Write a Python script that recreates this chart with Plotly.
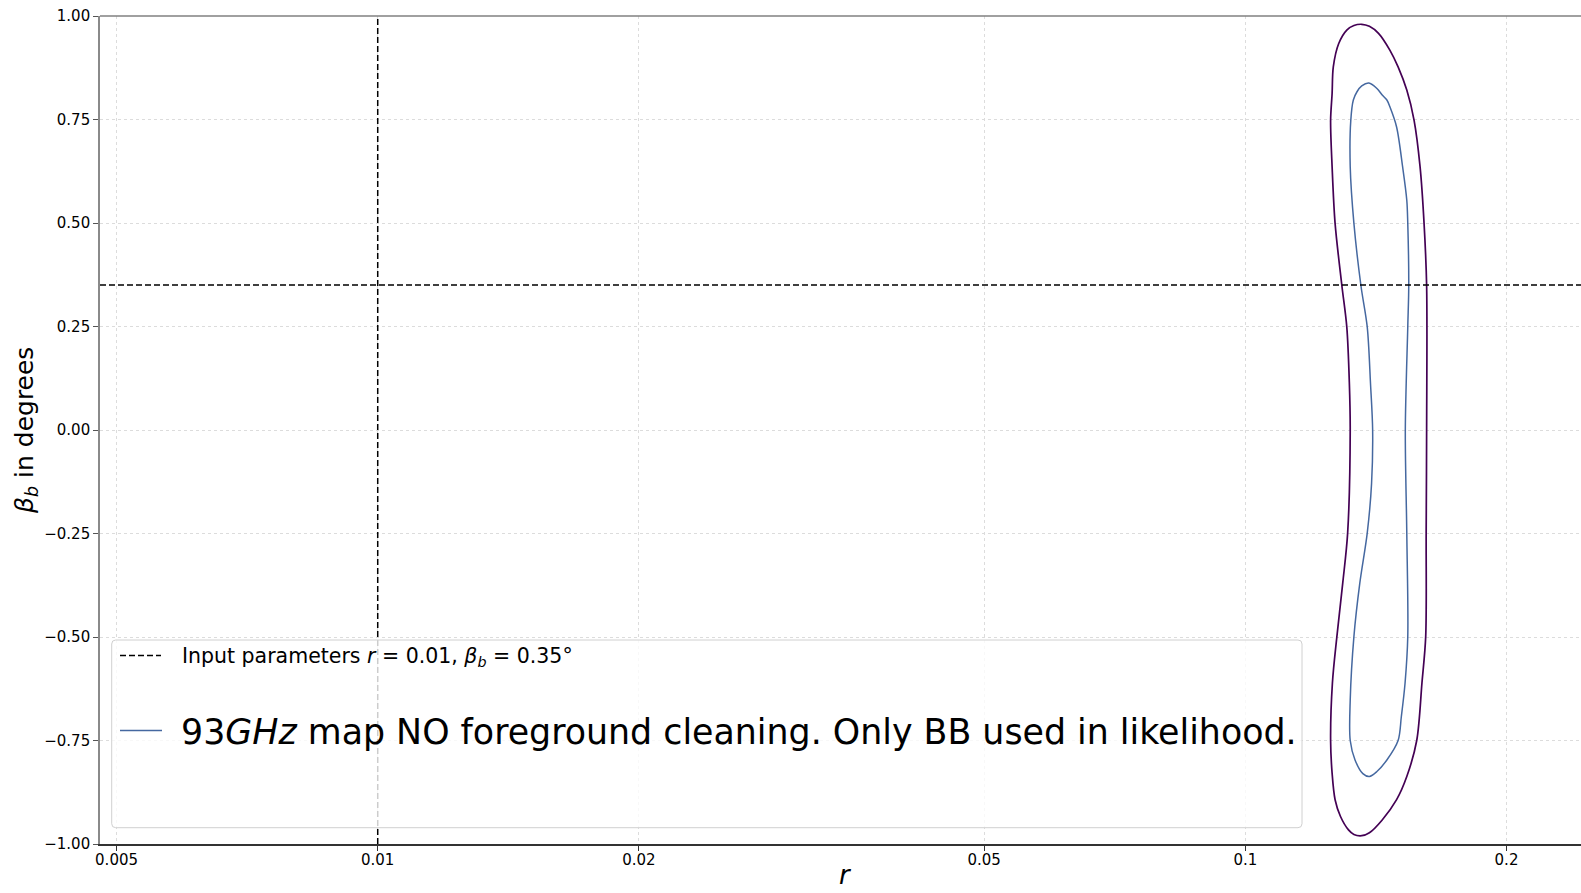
import numpy as np
import plotly.graph_objects as go

# ---- data -------------------------------------------------------------
# Input (fiducial) parameters
r_input = 0.01
beta_input = 0.35

# Outer confidence contour (r, beta_b in degrees), closed loop
outer_r = [0.1362, 0.1390, 0.1424, 0.1468, 0.1500, 0.1535, 0.1565, 0.1590, 0.1607,
           0.1618, 0.1618, 0.1616, 0.1614, 0.1598, 0.1576, 0.1535, 0.1494, 0.1438,
           0.1390, 0.1362, 0.1334, 0.1315, 0.1287, 0.1269, 0.1259, 0.1254, 0.1260,
           0.1275, 0.1295, 0.1312, 0.1321, 0.1318, 0.1309, 0.1292, 0.1269, 0.1259,
           0.1254, 0.1259, 0.1263, 0.1281, 0.1309, 0.1334, 0.1362]
outer_beta = [0.980, 0.975, 0.958, 0.917, 0.877, 0.821, 0.748, 0.636, 0.499,
              0.349, 0.000, -0.249, -0.499, -0.611, -0.750, -0.837, -0.893, -0.942,
              -0.973, -0.980, -0.977, -0.966, -0.933, -0.893, -0.829, -0.750, -0.611,
              -0.499, -0.370, -0.249, 0.000, 0.113, 0.249, 0.349, 0.499, 0.636,
              0.748, 0.813, 0.877, 0.933, 0.966, 0.977, 0.980]

# Inner confidence contour
inner_r = [0.1388, 0.1418, 0.1438, 0.1456, 0.1468, 0.1494, 0.1518, 0.1535, 0.1539,
           0.1543, 0.1539, 0.1529, 0.1535, 0.1539, 0.1528, 0.1513, 0.1500, 0.1456,
           0.1418, 0.1390, 0.1366, 0.1338, 0.1321, 0.1321, 0.1334, 0.1355, 0.1382,
           0.1398, 0.1402, 0.1394, 0.1382, 0.1359, 0.1334, 0.1321, 0.1323, 0.1332,
           0.1345, 0.1362, 0.1388]
inner_beta = [0.838, 0.825, 0.809, 0.797, 0.780, 0.732, 0.636, 0.555, 0.499,
              0.349, 0.249, 0.000, -0.249, -0.499, -0.611, -0.692, -0.750, -0.797,
              -0.825, -0.837, -0.830, -0.797, -0.750, -0.652, -0.499, -0.370, -0.249,
              -0.129, 0.000, 0.113, 0.249, 0.349, 0.499, 0.636, 0.748, 0.797,
              0.817, 0.831, 0.838]

x_ticks = [0.005, 0.01, 0.02, 0.05, 0.1, 0.2]
x_tick_labels = ["0.005", "0.01", "0.02", "0.05", "0.1", "0.2"]
y_ticks = [-1.0, -0.75, -0.5, -0.25, 0.0, 0.25, 0.5, 0.75, 1.0]

# ---- layout geometry ---------------------------------------------------
W, H = 1581, 893
ML, MR, MT, MB = 100, 0, 16, 49
PW, PH = W - ML - MR, H - MT - MB
x_range = [-2.3201, -0.6131]          # log10 limits of r
y_range = [-1.0, 1.0]

FONT = "DejaVu Sans"
OUTER_COL = "#440154"
INNER_COL = "#4568a0"
GRID_COL = "#dcdcdc"


def px(x):
    return (x - ML) / PW


def py(y):
    return (H - MB - y) / PH


fig = go.Figure()

fig.add_trace(go.Scatter(x=outer_r, y=outer_beta, mode="lines",
                         line=dict(color=OUTER_COL, width=1.7, shape="spline", smoothing=0.9),
                         showlegend=False, hoverinfo="skip"))
fig.add_trace(go.Scatter(x=inner_r, y=inner_beta, mode="lines",
                         line=dict(color=INNER_COL, width=1.5, shape="spline", smoothing=0.9),
                         showlegend=False, hoverinfo="skip"))

# input parameter markers: vertical at r_input, horizontal at beta_input
fig.add_trace(go.Scatter(x=[r_input, r_input], y=y_range, mode="lines",
                         line=dict(color="black", width=1.5, dash="6px,3px"),
                         showlegend=False, hoverinfo="skip"))
fig.add_trace(go.Scatter(x=[10 ** x_range[0], 10 ** x_range[1]], y=[beta_input, beta_input],
                         mode="lines", line=dict(color="black", width=1.5, dash="6px,3px"),
                         showlegend=False, hoverinfo="skip"))

# ---- legend (drawn by hand) ------------------------------------------
lx0, ly0, lx1, ly1, rad = 111.7, 640.0, 1302.0, 827.7, 4.0
rx, ry = rad / PW, rad / PH
X0, X1, Y0, Y1 = px(lx0), px(lx1), py(ly1), py(ly0)
frame = (f"M {X0 + rx},{Y1} L {X1 - rx},{Y1} Q {X1},{Y1} {X1},{Y1 - ry} "
         f"L {X1},{Y0 + ry} Q {X1},{Y0} {X1 - rx},{Y0} L {X0 + rx},{Y0} "
         f"Q {X0},{Y0} {X0},{Y0 + ry} L {X0},{Y1 - ry} Q {X0},{Y1} {X0 + rx},{Y1} Z")

shapes = [
    dict(type="path", path=frame, xref="paper", yref="paper", layer="above",
         fillcolor="rgba(255,255,255,0.8)", line=dict(color="#d0d0d0", width=1)),
    dict(type="line", xref="paper", yref="paper", layer="above",
         x0=px(120), x1=px(161), y0=py(655.5), y1=py(655.5),
         line=dict(color="black", width=1.5, dash="6px,3px")),
    dict(type="line", xref="paper", yref="paper", layer="above",
         x0=px(120), x1=px(162), y0=py(730.5), y1=py(730.5),
         line=dict(color=INNER_COL, width=1.5)),
    # top spine
    dict(type="line", xref="paper", yref="paper", layer="above",
         x0=0, x1=1, y0=1, y1=1, line=dict(color="#808080", width=1.6)),
]

annotations = [
    dict(text="Input parameters <i>r</i> = 0.01, <i>β</i><sub><i>b</i></sub> = 0.35°",
         xref="paper", yref="paper", x=px(180), y=py(657), xanchor="left", yanchor="middle",
         showarrow=False, font=dict(family=FONT, size=20.5, color="black")),
    dict(text="93<i>GHz</i> map NO foreground cleaning. Only BB used in likelihood.",
         xref="paper", yref="paper", x=px(179), y=py(732), xanchor="left", yanchor="middle",
         showarrow=False, font=dict(family=FONT, size=34.8, color="black")),
    dict(text="<i>r</i>", xref="paper", yref="paper", x=px(845), y=py(892),
         xanchor="center", yanchor="bottom", showarrow=False,
         font=dict(family=FONT, size=26, color="black")),
    dict(text="<i>β</i><sub><i>b</i></sub> in degrees", xref="paper", yref="paper",
         x=px(26), y=py(431), xanchor="center", yanchor="middle", textangle=-90,
         showarrow=False, font=dict(family=FONT, size=25, color="black")),
]

fig.update_layout(
    width=W, height=H,
    margin=dict(l=ML, r=MR, t=MT, b=MB, pad=0),
    paper_bgcolor="white", plot_bgcolor="white",
    font=dict(family=FONT, size=15, color="black"),
    showlegend=False,
    shapes=shapes,
    annotations=annotations,
    xaxis=dict(type="log", range=x_range, tickvals=x_ticks, ticktext=x_tick_labels,
               showgrid=True, gridcolor=GRID_COL, griddash="dot", gridwidth=1,
               showline=True, linecolor="#333333", linewidth=1.6,
               ticks="outside", ticklen=5, tickwidth=1, tickcolor="#333333",
               ticklabelstandoff=-4,
               tickfont=dict(family=FONT, size=15, color="black"),
               zeroline=False, fixedrange=True),
    yaxis=dict(range=y_range, tickvals=y_ticks, tickformat=".2f",
               showgrid=True, gridcolor=GRID_COL, griddash="dot", gridwidth=1,
               showline=True, linecolor="#8a8a8a", linewidth=1.6,
               ticks="outside", ticklen=5, tickwidth=1, tickcolor="#555555",
               tickfont=dict(family=FONT, size=15, color="black"),
               zeroline=False, fixedrange=True),
)

fig.write_html("out.html")
